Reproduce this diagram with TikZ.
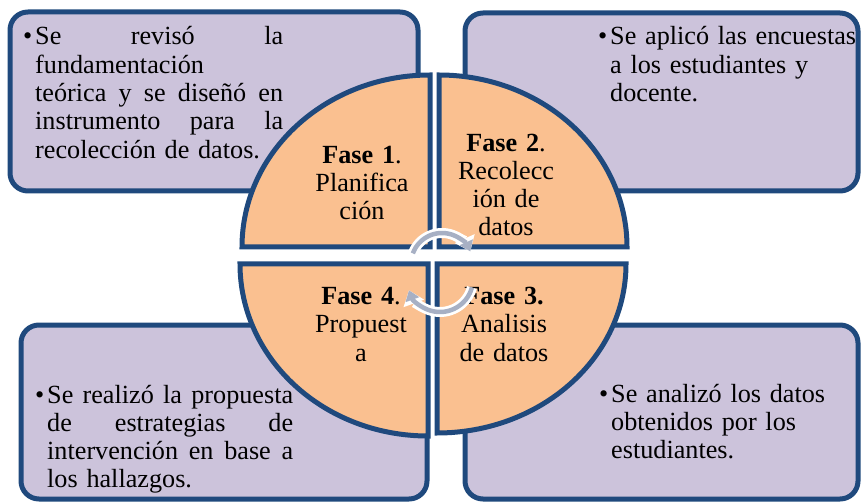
\documentclass[tikz,border=0pt]{standalone}
\usepackage{fontspec}
\setmainfont{Liberation Serif}
\usetikzlibrary{arrows.meta}
\definecolor{dblue}{HTML}{1F497D}
\definecolor{lav}{HTML}{CCC3DB}
\definecolor{peach}{HTML}{FAC090}
\definecolor{cyc}{HTML}{A7B0C4}
\begin{document}
\begin{tikzpicture}[x=1pt,y=-1pt,
  box/.style={draw=dblue,line width=5pt,fill=lav,rounded corners=18pt},
  quad/.style={draw=dblue,line width=5pt,fill=peach},
  txt/.style={font=\fontsize{26.2}{28.3}\selectfont,inner sep=0pt,anchor=base west,align=left},
  qtxt/.style={font=\fontsize{26.2}{28}\selectfont,inner sep=0pt,anchor=base,align=center,text width=140pt},
  cycwhite/.style={white,line width=10pt,-{Triangle[length=14pt,width=21pt]}},
  cycgray/.style={cyc,line width=4.5pt,-{Triangle[length=10pt,width=14pt]}}]
\useasboundingbox (0,0) rectangle (861,502);
% boxes
\draw[box] (10,12) rectangle (418,191);
\draw[box] (465,13) rectangle (858,191);
\draw[box] (21,325) rectangle (427,499);
\draw[box] (465,325) rectangle (858,499);
% quadrants
\draw[quad] (430,247) -- (242,247) arc[start angle=180,end angle=270,x radius=188,y radius=172] -- cycle;
\draw[quad] (439,247) -- (439,75) arc[start angle=270,end angle=360,x radius=188,y radius=172] -- cycle;
\draw[quad] (428,264) -- (240,264) arc[start angle=180,end angle=90,x radius=188,y radius=172] -- cycle;
\draw[quad] (437,264) -- (626,264) arc[start angle=0,end angle=90,x radius=189,y radius=169] -- cycle;
% box texts
\node[txt,text width=248pt] (t1) at (35,45) {\llap{•\hspace{3pt}}Se\hfill revisó\hfill la\\
fundamentación\\
teórica\hfill y\hfill se\hfill diseñó\hfill en\\
instrumento\hfill para\hfill la\\
recolección de datos.};
\node[txt,text width=250pt] (t2) at (610,45) {\llap{•\hspace{3pt}}Se aplicó las encuestas\\
a los estudiantes y\\
docente.};
\node[txt,text width=246pt] (t4) at (47,403) {\llap{•\hspace{3pt}}Se\hfill realizó\hfill la\hfill propuesta\\
de\hfill estrategias\hfill de\\
intervención\hfill en\hfill base\hfill a\\
los hallazgos.};
\node[txt,text width=250pt] (t3) at (611,402) {\llap{•\hspace{3pt}}Se analizó los datos\\
obtenidos por los\\
estudiantes.};
% quadrant texts
\node[qtxt] (q1) at (362,164) {\textbf{Fase 1}.\\Planifica\\ción};
\node[qtxt] (q2) at (506,152) {\textbf{Fase 2}.\\Recolecc\\ión de\\datos};
\node[qtxt] (q3) at (504,305) {\textbf{Fase 3.}\\Analisis\\de datos};
\node[qtxt] (q4) at (361,305) {\textbf{Fase 4}.\\Propuest\\a};
% cycle arrows
\draw[cycwhite] (442,264) ++(200:31) arc[start angle=200,end angle=336,radius=31];
\draw[cycgray] (442,264) ++(200:31) arc[start angle=200,end angle=336,radius=31];
\draw[cycwhite] (440,279) ++(15:33) arc[start angle=15,end angle=160,radius=33];
\draw[cycgray] (440,279) ++(15:33) arc[start angle=15,end angle=160,radius=33];
\end{tikzpicture}
\end{document}
